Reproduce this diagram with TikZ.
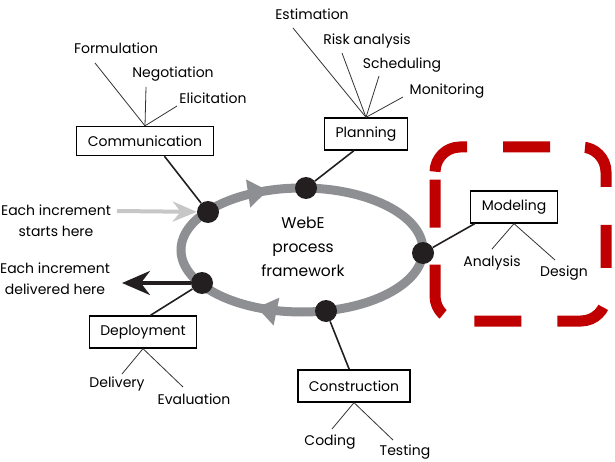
\documentclass[tikz,border=0pt]{standalone}
\usepackage{fontspec}
\setmainfont{Poppins}
\usetikzlibrary{arrows.meta,decorations.markings}

\definecolor{ringgray}{HTML}{8E8F93}
\definecolor{dotblack}{HTML}{231F20}
\definecolor{framered}{HTML}{C00000}

\tikzset{
  box/.style={draw,line width=1.3pt,inner xsep=11pt,minimum height=32pt,
    font=\fontsize{14}{17}\selectfont},
  lbl/.style={inner sep=1pt,text height=10pt,text depth=3pt,
    font=\fontsize{14}{21}\selectfont},
  dot/.style={circle,fill=dotblack,minimum size=22pt,inner sep=0pt},
  twig/.style={line width=0.8pt,draw=black!80},
  stem/.style={line width=1.6pt,draw=dotblack},
}

\begin{document}
\begin{tikzpicture}[x=1pt,y=-1pt]
  \useasboundingbox (0,0) rectangle (615,462);
  % red frame round the modeling activity
  \draw[framered,line width=11pt,rounded corners=25pt,
    dash pattern=on 47pt off 35pt on 50pt off 38pt on 43pt off 40pt on 51pt off 36pt
      on 47pt off 33pt on 52pt off 37pt on 48pt off 8pt on 46pt off 36pt]
    (503,147) -- (606,147) -- (606,321) -- (435,321) -- (435,147) -- (503,147);
  % the process ring
  \draw[ringgray,line width=9pt,postaction={decorate},
    decoration={markings,
      mark=at position 0.308 with {\arrowreversed{Triangle[length=20pt,width=27pt]}},
      mark=at position 0.673 with {\arrowreversed{Triangle[length=20pt,width=27pt]}}}]
    (302,250) ellipse [x radius=121pt,y radius=62pt];
  \node[lbl,align=center,text height=,text depth=,font=\fontsize{15.5}{24}\selectfont]
    (webe) at (303,247) {WebE\\process\\framework};
  \node[dot] (dcm) at (208,212) {};
  \node[dot] (dpl) at (306,188) {};
  \node[dot] (dmo) at (423,253) {};
  \node[dot] (dco) at (326,311) {};
  \node[dot] (dde) at (202,283) {};
  % activities
  \node[box,minimum height=29pt] (comm) at (145,141) {Communication};
  \node[box] (plan) at (366,134) {Planning};
  \node[box] (mod) at (514,207) {Modeling};
  \node[box] (dep) at (143,332) {Deployment};
  \node[box] (con) at (354,386) {Construction};
  % actions
  \node[lbl] (form) at (116,50) {Formulation};
  \node[lbl] (nego) at (173,74) {Negotiation};
  \node[lbl] (elic) at (213,100) {Elicitation};
  \node[lbl] (esti) at (312,16) {Estimation};
  \node[lbl] (risk) at (367,41) {Risk analysis};
  \node[lbl] (sche) at (402,65) {Scheduling};
  \node[lbl] (moni) at (447,91) {Monitoring};
  \node[lbl] (anal) at (492,263) {Analysis};
  \node[lbl] (desi) at (564,273) {Design};
  \node[lbl] (deli) at (117,384) {Delivery};
  \node[lbl] (eval) at (194,401) {Evaluation};
  \node[lbl] (codi) at (330,442) {Coding};
  \node[lbl] (test) at (405,452) {Testing};
  \node[lbl,align=center,text height=,text depth=] (start) at (56,221) {Each increment\\starts here};
  \node[lbl,align=center,text height=,text depth=] (deliv) at (55,279) {Each increment\\delivered here};
  % free ends of the action twigs
  \coordinate (f-form) at (95,63);
  \coordinate (f-nego) at (146,87);
  \coordinate (f-elic) at (177,106);
  \coordinate (f-esti) at (293,28);
  \coordinate (f-risk) at (342,53);
  \coordinate (f-sche) at (379,76);
  \coordinate (f-moni) at (403,97);
  \coordinate (f-anal) at (492,249);
  \coordinate (f-desi) at (555,260);
  \coordinate (f-deli) at (122,374);
  \coordinate (f-eval) at (183,387);
  \coordinate (f-codi) at (332,429);
  \coordinate (f-test) at (393,440);
  \foreach \from/\to in {f-form/comm.north,f-nego/comm.north,f-elic/comm.north,
      f-esti/plan.north,f-risk/plan.north,f-sche/plan.north,f-moni/plan.north,
      f-anal/mod.south,f-desi/mod.south,f-deli/dep.south,f-eval/dep.south,
      f-codi/con.south,f-test/con.south}
    \draw[twig] (\from) -- (\to);
  \foreach \from/\to in {dcm/comm.-38,dpl/plan.234,dmo/mod.203,dde/dep.66,dco/con.106}
    \draw[stem] (\from) -- (\to);
  % increments in and out
  \coordinate (in) at (117,211);
  \coordinate (out) at (122,283);
  \draw[line width=4pt,black!22,-{Stealth[length=24pt,width=20pt]}] (in) -- (dcm);
  \draw[line width=3.5pt,dotblack,-{Stealth[length=28pt,width=24pt]}] (dde) -- (out);
\end{tikzpicture}
\end{document}
